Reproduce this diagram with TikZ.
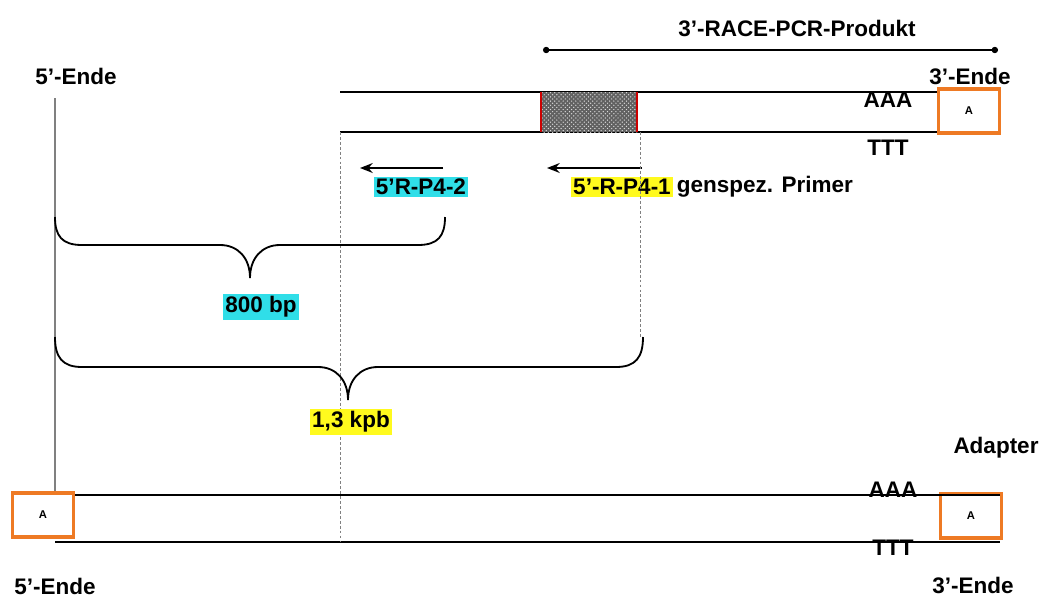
\documentclass[tikz,border=0pt]{standalone}
\usepackage{fontspec}
\setmainfont{Liberation Sans}
\usetikzlibrary{arrows.meta,positioning,patterns}
\definecolor{adorange}{RGB}{238,122,36}
\definecolor{hlcyan}{RGB}{48,222,232}
\definecolor{hlyellow}{RGB}{255,250,30}

\begin{document}
\begin{tikzpicture}[x=0.025cm, y=-0.025cm, >=Stealth,
  font=\fontsize{16}{18}\selectfont\bfseries,
  strand/.style={line width=1.3pt},
  adbox/.style={draw=adorange, line width=2.2pt, fill=white, minimum width=1.52cm,
    minimum height=1.1cm, inner sep=0pt, font=\fontsize{8}{8}\selectfont\bfseries},
  hl/.style={inner sep=1.5pt},
  guide/.style={gray, dash pattern=on 2pt off 1.5pt, line width=0.7pt},
  curly/.style={line width=1.3pt}]

\useasboundingbox (0,0) rectangle (1047,601);

% product on top: title and its span
\node (title) at (797,28) {3'-RACE-PCR-Produkt};
\coordinate (pl) at (543,50);
\coordinate (pr) at (998,50);
\draw[{Circle[length=4.5pt]}-{Circle[length=4.5pt]}, line width=1pt] (pl) -- (pr);

% upper cDNA: two strands, gene region, adapter box
\node[adbox] (boxtop) at (969,111) {A};
\coordinate (tu) at (340,92);
\coordinate (tl) at (340,132);
\draw[strand] (tu) -- (tu -| boxtop.west);
\draw[strand] (tl) -- (tl -| boxtop.west);
\fill[black!62] (541,92) rectangle (637,132);
\fill[pattern=crosshatch dots, pattern color=white!70!gray] (541,92) rectangle (637,132);
\draw[red!80!black, line width=1.2pt] (541,92) -- (541,132) (637,92) -- (637,132);
\node (aaatop) at (888,100) {AAA};
\node (ttttop) at (888,148) {TTT};
\node (endfivetop) at (76,76) {5'-Ende};
\node (endthreetop) at (970,76) {3'-Ende};

% primers
\coordinate (ps) at (443,168);
\coordinate (pe) at (360,168);
\coordinate (qs) at (642,168);
\coordinate (qe) at (547,168);
\draw[-{Stealth[length=9pt,width=7pt]}, line width=1.3pt] (ps) -- (pe);
\draw[-{Stealth[length=9pt,width=7pt]}, line width=1.3pt] (qs) -- (qe);
\node[hl, fill=hlcyan] (primtwo) at (421,187) {5'R-P4-2};
\node[hl, fill=hlyellow] (primone) at (622,187) {5'-R-P4-1};
\node[right=1pt of primone, inner sep=1.5pt] (genspez) {genspez. Primer};

% lower cDNA with adapters at both ends
\node[adbox] (boxleft) at (43,515) {A};
\node[adbox] (boxright) at (971,516) {A};
\coordinate (bu) at (1000,495);
\coordinate (bl) at (1000,542);
\draw[strand] (boxleft.east |- bu) -- (bu);
\draw[strand] (55,542) -- (bl);
\node (aaabot) at (893,490) {AAA};
\node (tttbot) at (893,548) {TTT};
\node (adapter) at (996,448) {Adapter};
\node (endfivebot) at (55,586) {5'-Ende};
\node (endthreebot) at (973,585) {3'-Ende};

% 5' end guide, dashed guides
\coordinate (vl) at (55,98);
\draw[gray, line width=1pt] (vl) -- (vl |- boxleft.north);
\draw[guide] (tl) -- (340,542);
\draw[guide] (640,132) -- (640,337);

% lengths
\draw[curly] (55,217) .. controls (55,236) and (62,245) .. (82,245) -- (220,245)
  .. controls (238,245) and (250,258) .. (250,278)
  .. controls (250,258) and (262,245) .. (280,245) -- (418,245)
  .. controls (438,245) and (445,236) .. (445,217);
\draw[curly] (55,337) .. controls (55,357) and (62,367) .. (82,367) -- (318,367)
  .. controls (336,367) and (348,380) .. (348,400)
  .. controls (348,380) and (360,367) .. (378,367) -- (616,367)
  .. controls (636,367) and (643,357) .. (643,337);
\node[hl, fill=hlcyan] (bp) at (261,307) {800 bp};
\node[hl, fill=hlyellow] (kpb) at (351,422) {1,3 kpb};

\end{tikzpicture}
\end{document}
